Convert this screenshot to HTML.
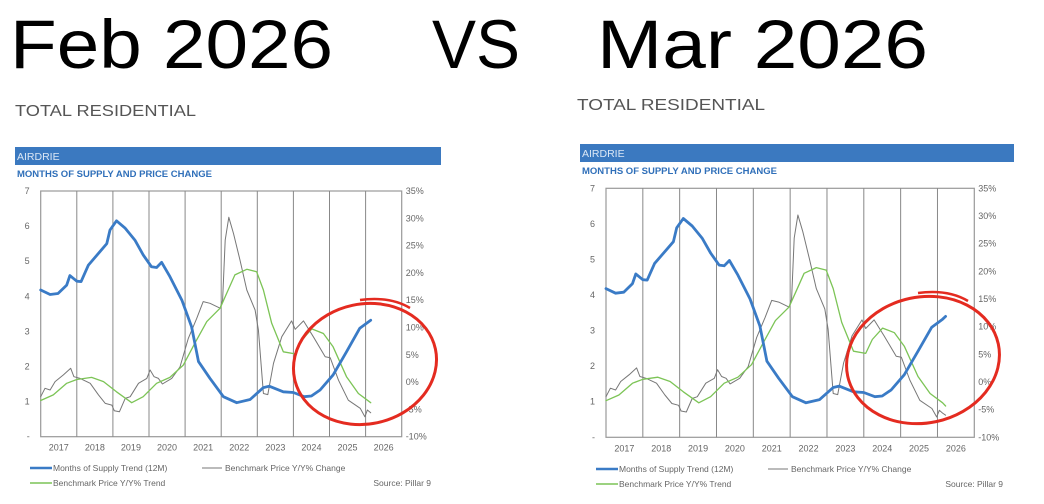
<!DOCTYPE html>
<html><head><meta charset="utf-8"><style>
html,body{margin:0;padding:0;background:#fff;}
svg{display:block}
</style></head><body>
<svg id="s" width="1044" height="504" viewBox="0 0 1044 504" xmlns="http://www.w3.org/2000/svg" font-family="Liberation Sans, sans-serif">
<text x="10" y="68" font-size="69" fill="#000" textLength="323" lengthAdjust="spacingAndGlyphs">Feb 2026</text>
<text x="432" y="68" font-size="69" fill="#000" textLength="88" lengthAdjust="spacingAndGlyphs">VS</text>
<text x="597" y="68" font-size="69" fill="#000" textLength="331" lengthAdjust="spacingAndGlyphs">Mar 2026</text>
<text x="15" y="116" font-size="16" fill="#555" textLength="181" lengthAdjust="spacingAndGlyphs">TOTAL RESIDENTIAL</text>
<text x="577" y="110" font-size="16" fill="#555" textLength="188" lengthAdjust="spacingAndGlyphs">TOTAL RESIDENTIAL</text>
</svg>
<script>
var blue=[[0,4.18],[0.26,4.05],[0.48,4.08],[0.72,4.32],[0.81,4.59],[1.0,4.43],[1.12,4.42],[1.32,4.89],[1.64,5.27],[1.83,5.5],[1.92,5.89],[2.1,6.15],[2.34,5.94],[2.61,5.6],[2.84,5.18],[3.07,4.84],[3.21,4.82],[3.35,4.97],[3.58,4.56],[3.91,3.89],[4.18,3.13],[4.37,2.14],[4.69,1.66],[5.06,1.14],[5.43,0.97],[5.8,1.06],[6.17,1.4],[6.33,1.44],[6.72,1.28],[7.0,1.26],[7.3,1.14],[7.5,1.16],[7.74,1.33],[8.1,1.76],[8.47,2.42],[8.84,3.09],[9.14,3.32]];
var gray=[[0,1.14],[0.12,1.38],[0.26,1.33],[0.4,1.57],[0.63,1.76],[0.83,1.95],[0.92,1.71],[1.09,1.66],[1.37,1.52],[1.6,1.19],[1.79,0.95],[1.97,0.9],[2.04,0.74],[2.18,0.71],[2.34,1.09],[2.48,1.14],[2.71,1.52],[2.94,1.66],[3.03,1.9],[3.14,1.71],[3.26,1.66],[3.37,1.5],[3.63,1.66],[3.86,1.99],[4.09,2.8],[4.32,3.37],[4.5,3.85],[4.69,3.8],[4.97,3.66],[5.04,3.89],[5.11,5.6],[5.21,6.25],[5.34,5.79],[5.52,5.03],[5.71,4.18],[5.94,3.61],[6.03,3.04],[6.17,1.23],[6.29,1.2],[6.45,2.09],[6.68,2.85],[6.95,3.3],[7.05,3.06],[7.28,3.3],[7.55,2.85],[7.88,2.28],[8.02,2.25],[8.25,1.61],[8.52,1.04],[8.85,0.81],[8.98,0.57],[9.05,0.76],[9.14,0.68]];
var green=[[0,1.03],[0.35,1.19],[0.72,1.52],[1.0,1.63],[1.41,1.69],[1.74,1.57],[2.1,1.28],[2.52,0.97],[2.84,1.14],[3.21,1.52],[3.58,1.69],[3.95,2.04],[4.27,2.66],[4.6,3.28],[4.97,3.66],[5.15,4.08],[5.38,4.61],[5.71,4.77],[5.98,4.7],[6.17,4.18],[6.4,3.23],[6.72,2.42],[7.05,2.36],[7.23,2.75],[7.51,3.07],[7.83,2.94],[8.1,2.56],[8.47,1.71],[8.8,1.23],[9.14,0.97]];
var S=document.getElementById('s'),h='';
function chart(c){
 var L=c.L,T=c.T,R=c.R,B=c.B,cw=(R-L)/10,mh=(B-T)/7;
 function X(v){return L+v*cw} function Y(v){return B-v*mh}
 h+='<rect x="'+c.bx+'" y="'+c.by+'" width="'+c.bw+'" height="18" fill="#3b79c0"/>';
 h+='<text x="'+(c.bx+2)+'" y="'+(c.by+13)+'" font-size="10.5" fill="#dbe7f5">AIRDRIE</text>';
 h+='<text x="'+(c.bx+2)+'" y="'+(c.by+30)+'" font-size="9.5" font-weight="bold" fill="#2f6fb9">MONTHS OF SUPPLY AND PRICE CHANGE</text>';
 h+='<rect x="'+L+'" y="'+T+'" width="'+(R-L)+'" height="'+(B-T)+'" fill="none" stroke="#999" stroke-width="1.2"/>';
 for(var i=1;i<10;i++)h+='<line x1="'+X(i)+'" y1="'+T+'" x2="'+X(i)+'" y2="'+B+'" stroke="#888" stroke-width="1"/>';
 var lab=['-','1','2','3','4','5','6','7'];
 for(i=0;i<8;i++){h+='<text x="'+(L-11)+'" y="'+(Y(i)+3)+'" font-size="9" fill="#666" text-anchor="end">'+lab[i]+'</text>';}
 for(i=0;i<10;i++){var p=-10+5*i;h+='<text x="'+(R+4)+'" y="'+(B-i*(B-T)/9+3)+'" font-size="9" fill="#666">'+p+'%</text>';}
 for(i=0;i<10;i++)h+='<text x="'+(X(i)+cw/2)+'" y="'+(B+14)+'" font-size="9" fill="#666" text-anchor="middle">'+(2017+i)+'</text>';
 function pl(d,col,w){var s='';for(var k=0;k<d.length;k++)s+=X(d[k][0]).toFixed(1)+','+Y(d[k][1]).toFixed(1)+' ';h+='<polyline points="'+s+'" fill="none" stroke="'+col+'" stroke-width="'+w+'" stroke-linejoin="round" stroke-linecap="round"/>';}
 var g=gray.slice(),gr=green.slice(),bl=blue.slice();
 if(c.ext){g.push([9.22,0.62]);gr.push([9.22,0.88]);bl.push([9.22,3.4]);}
 pl(g,'#777',1);pl(gr,'#7cc456',1.3);pl(bl,'#3a7bc6',2.8);
 var ly=c.ly,lx=c.lx;
 h+='<line x1="'+lx+'" y1="'+ly+'" x2="'+(lx+22)+'" y2="'+ly+'" stroke="#3a7bc6" stroke-width="2.5"/>';
 h+='<text x="'+(lx+23)+'" y="'+(ly+3)+'" font-size="8.5" fill="#666">Months of Supply Trend (12M)</text>';
 h+='<line x1="'+(lx+172)+'" y1="'+ly+'" x2="'+(lx+192)+'" y2="'+ly+'" stroke="#777" stroke-width="1"/>';
 h+='<text x="'+(lx+195)+'" y="'+(ly+3)+'" font-size="8.5" fill="#666">Benchmark Price Y/Y% Change</text>';
 h+='<line x1="'+lx+'" y1="'+(ly+15)+'" x2="'+(lx+22)+'" y2="'+(ly+15)+'" stroke="#7cc456" stroke-width="1.5"/>';
 h+='<text x="'+(lx+23)+'" y="'+(ly+18)+'" font-size="8.5" fill="#666">Benchmark Price Y/Y% Trend</text>';
 h+='<text x="'+c.sx+'" y="'+(ly+18)+'" font-size="8.5" fill="#666" text-anchor="end">Source: Pillar 9</text>';
 h+='<ellipse cx="'+c.cx+'" cy="'+c.cy+'" rx="'+c.rx+'" ry="'+c.ry+'" transform="rotate(-12 '+c.cx+' '+c.cy+')" fill="none" stroke="#e42b20" stroke-width="3"/>';
 h+='<path d="M'+(c.cx-5)+','+(c.cy-c.ry-4)+' Q'+(c.cx+25)+','+(c.cy-c.ry-8)+' '+(c.cx+45)+','+(c.cy-c.ry+4)+'" fill="none" stroke="#e42b20" stroke-width="2.5"/>';
}
chart({L:40.7,T:191,R:401.7,B:436.7,bx:15,by:147,bw:426,ly:468,lx:30,sx:431,cx:365,cy:364,rx:72,ry:60,ext:false});
chart({L:606,T:188.3,R:974.3,B:437.3,bx:580,by:144,bw:434,ly:469,lx:596,sx:1003,cx:923,cy:360,rx:77,ry:63,ext:true});
S.insertAdjacentHTML('beforeend',h);
</script>
</body></html>
